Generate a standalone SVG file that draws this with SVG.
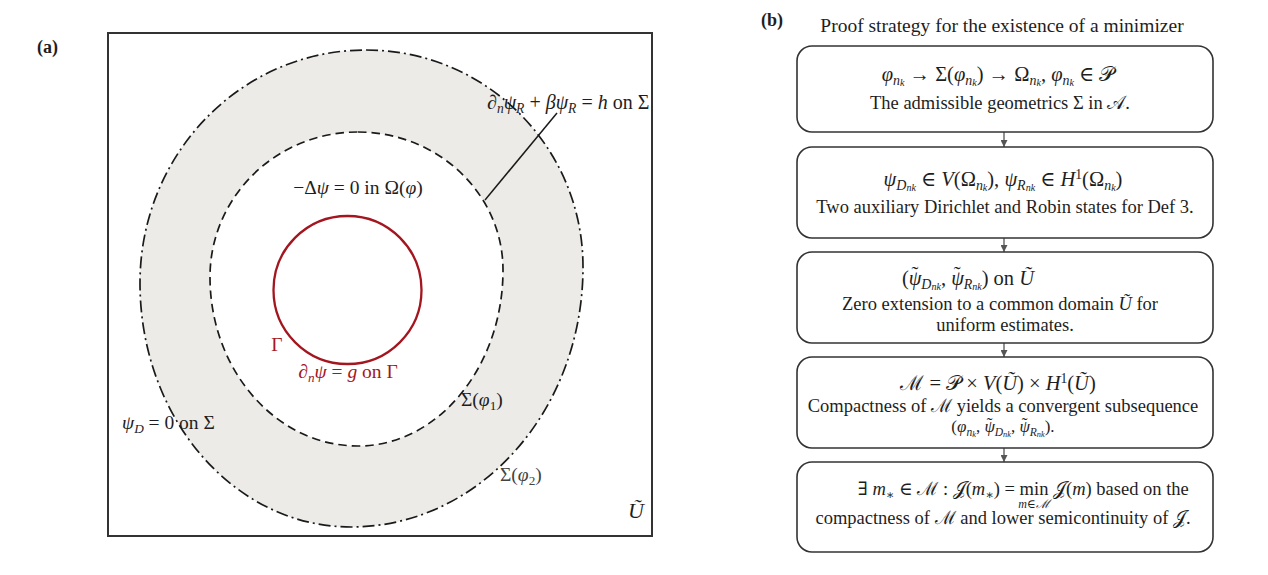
<svg xmlns="http://www.w3.org/2000/svg" width="1268" height="575" viewBox="0 0 1268 575">
<style>
.t{font-family:"Liberation Serif","DejaVu Serif",serif;fill:#1e1e1e}
.lab{font-size:19.5px}
.bt{font-size:18.5px}
.mt{font-size:20.5px}
.i{font-style:italic}
.s1{font-size:68%;baseline-shift:-3.8px;font-style:italic}
.s2{font-size:72%;baseline-shift:-1.5px;font-style:italic}
.n{font-style:normal}
.sp{font-size:66%;baseline-shift:7px}
.tl{font-style:normal}
.red{fill:#a3161f}
.bold{font-weight:bold;font-size:18px}
.box{fill:#fff;stroke:#333;stroke-width:1.6}
.conn{stroke:#555;stroke-width:1.3;fill:none}
</style>
<defs>
<marker id="ah" viewBox="0 0 10 10" refX="10" refY="5" markerWidth="7" markerHeight="7" markerUnits="userSpaceOnUse" orient="auto"><path d="M0,0L10,5L0,10Z" fill="#555"/></marker>
</defs>
<rect width="1268" height="575" fill="#fff"/>
<text class="t bold" x="37" y="53">(a)</text>
<text class="t bold" x="761" y="26">(b)</text>

<g id="panel-a">
<rect x="108" y="33" width="544" height="503" fill="#fff" stroke="#333" stroke-width="2"/>
<path id="annulus" fill="#ecebe7" fill-rule="evenodd" d="M366,50C486,50 583,147 583,267C583,411 479,527 351,527C234,527 140,418 140,283C140,154 241,50 366,50Z M358,132C438,132 503,194 503,270C503,367 438,446 358,446C276,446 210,370 210,277C210,197 276,132 358,132Z"/>
<path id="sigma2" fill="none" stroke="#1a1a1a" stroke-width="1.7" stroke-dasharray="12 4 2 4" d="M366,50C486,50 583,147 583,267C583,411 479,527 351,527C234,527 140,418 140,283C140,154 241,50 366,50Z"/>
<path id="sigma1" fill="none" stroke="#1a1a1a" stroke-width="1.7" stroke-dasharray="8.5 5" d="M358,132C438,132 503,194 503,270C503,367 438,446 358,446C276,446 210,370 210,277C210,197 276,132 358,132Z"/>
<circle id="gamma" cx="347.5" cy="290" r="74" fill="none" stroke="#a3161f" stroke-width="2.3"/>
<line x1="557" y1="113" x2="485" y2="200" stroke="#1a1a1a" stroke-width="1.5"/>
<text class="t lab" x="487" y="109" style="font-size:20px">∂<tspan class="s1">n</tspan><tspan class="i">ψ</tspan><tspan class="s1">R</tspan> + <tspan class="i">βψ</tspan><tspan class="s1">R</tspan> = <tspan class="i">h</tspan> on Σ</text>
<text class="t lab" x="358" y="194" text-anchor="middle">−Δ<tspan class="i">ψ</tspan> = 0 in Ω(<tspan class="i">φ</tspan>)</text>
<text class="t lab red" x="277" y="351" text-anchor="middle">Γ</text>
<text class="t lab red" x="348" y="378" text-anchor="middle">∂<tspan class="s1">n</tspan><tspan class="i">ψ</tspan> = <tspan class="i">g</tspan> on Γ</text>
<text class="t lab" x="461" y="406">Σ(<tspan class="i">φ</tspan><tspan class="s1 n">1</tspan>)</text>
<text class="t lab" x="122" y="429"><tspan class="i">ψ</tspan><tspan class="s1">D</tspan> = 0 on Σ</text>
<text class="t lab" x="500" y="481" style="fill:#444">Σ(<tspan class="i">φ</tspan><tspan class="s1 n">2</tspan>)</text>
<text class="t i" x="628" y="518" style="font-size:22px">Ũ</text>
</g>

<text class="t" x="1002" y="32" text-anchor="middle" style="font-size:19.5px">Proof strategy for the existence of a minimizer</text>

<g id="connectors">
<line class="conn" x1="1004" y1="132" x2="1004" y2="147" marker-end="url(#ah)"/>
<line class="conn" x1="1004" y1="238" x2="1004" y2="252" marker-end="url(#ah)"/>
<line class="conn" x1="1004" y1="343" x2="1004" y2="357" marker-end="url(#ah)"/>
<line class="conn" x1="1004" y1="448" x2="1004" y2="462" marker-end="url(#ah)"/>
</g>

<g id="step1">
<rect class="box" x="797" y="46" width="416" height="86" rx="15"/>
<text class="t mt" x="998" y="81" text-anchor="middle"><tspan class="i">φ</tspan><tspan class="s1">n<tspan class="s2">k</tspan></tspan> → Σ(<tspan class="i">φ</tspan><tspan class="s1">n<tspan class="s2">k</tspan></tspan>) → Ω<tspan class="s1">n<tspan class="s2">k</tspan></tspan>, <tspan class="i">φ</tspan><tspan class="s1">n<tspan class="s2">k</tspan></tspan> ∈ 𝒫</text>
<text class="t bt" x="1000" y="109" text-anchor="middle">The admissible geometrics Σ in 𝒜.</text>
</g>

<g id="step2">
<rect class="box" x="797" y="147" width="416" height="91" rx="15"/>
<text class="t mt" x="1003" y="186" text-anchor="middle"><tspan class="i">ψ</tspan><tspan class="s1">D<tspan class="s2">nk</tspan></tspan> ∈ <tspan class="i">V</tspan>(Ω<tspan class="s1">n<tspan class="s2">k</tspan></tspan>),  <tspan class="i">ψ</tspan><tspan class="s1">R<tspan class="s2">nk</tspan></tspan> ∈ <tspan class="i">H</tspan><tspan class="sp">1</tspan>(Ω<tspan class="s1">n<tspan class="s2">k</tspan></tspan>)</text>
<text class="t bt" x="1005" y="213" text-anchor="middle">Two auxiliary Dirichlet and Robin states for Def 3.</text>
</g>

<g id="step3">
<rect class="box" x="797" y="252" width="416" height="91" rx="15"/>
<text class="t mt" x="968" y="285" text-anchor="middle">(<tspan class="i">ψ</tspan><tspan class="tl" dx="-10" dy="-4">˜</tspan><tspan class="s1" dx="3" dy="4">D<tspan class="s2">nk</tspan></tspan>, <tspan class="i">ψ</tspan><tspan class="tl" dx="-10" dy="-4">˜</tspan><tspan class="s1" dx="3" dy="4">R<tspan class="s2">nk</tspan></tspan>) on <tspan class="i">Ũ</tspan></text>
<text class="t bt" x="1000" y="310" text-anchor="middle">Zero extension to a common domain <tspan class="i">Ũ</tspan> for</text>
<text class="t bt" x="1005" y="331" text-anchor="middle">uniform estimates.</text>
</g>

<g id="step4">
<rect class="box" x="797" y="357" width="416" height="91" rx="15"/>
<text class="t mt" x="998" y="390" text-anchor="middle">ℳ = 𝒫 × <tspan class="i">V</tspan>(<tspan class="i">Ũ</tspan>) × <tspan class="i">H</tspan><tspan class="sp">1</tspan>(<tspan class="i">Ũ</tspan>)</text>
<text class="t bt" x="1003" y="412" text-anchor="middle">Compactness of ℳ yields a convergent subsequence</text>
<text class="t" x="1003" y="432" text-anchor="middle" style="font-size:17px">(<tspan class="i">φ</tspan><tspan class="s1">n<tspan class="s2">k</tspan></tspan>, <tspan class="i">ψ</tspan><tspan class="tl" dx="-8.2" dy="-3">˜</tspan><tspan class="s1" dx="2.3" dy="3">D<tspan class="s2">nk</tspan></tspan>, <tspan class="i">ψ</tspan><tspan class="tl" dx="-8.2" dy="-3">˜</tspan><tspan class="s1" dx="2.3" dy="3">R<tspan class="s2">nk</tspan></tspan>).</text>
</g>

<g id="step5">
<rect class="box" x="797" y="462" width="416" height="90" rx="15"/>
<text class="t bt" x="1015" y="495" text-anchor="end">∃ <tspan class="i">m</tspan><tspan class="s1 n">∗</tspan> ∈ ℳ :   𝒥(<tspan class="i">m</tspan><tspan class="s1 n">∗</tspan>) = </text>
<text class="t bt" x="1034" y="495" text-anchor="middle">min</text>
<text class="t i" x="1034" y="508" text-anchor="middle" style="font-size:12px">m∈ℳ</text>
<text class="t bt" x="1053" y="495">𝒥(<tspan class="i">m</tspan>) based on the</text>
<text class="t bt" x="1003" y="524" text-anchor="middle">compactness of ℳ and lower semicontinuity of 𝒥.</text>
</g>
</svg>
